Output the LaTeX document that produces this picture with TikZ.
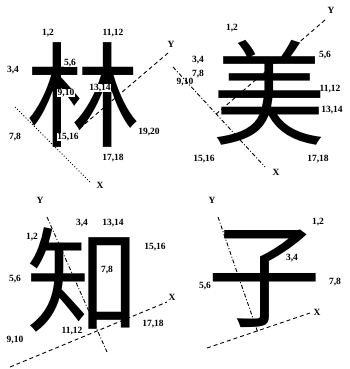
\documentclass[tikz,border=0pt]{standalone}
\usepackage{fontspec}
\setmainfont{Liberation Serif}
\newfontfamily\cjk{Noto Sans CJK SC}
\begin{document}
\begin{tikzpicture}[x=1pt,y=-1pt,
  hanzi/.style={font=\cjk\fontsize{114}{114}\selectfont, inner sep=0pt},
  lbl/.style={font=\bfseries\fontsize{9.5}{9.5}\selectfont, inner sep=0.6pt},
  inlbl/.style={lbl, fill=white, inner sep=0.3pt},
  axisdash/.style={line width=0.9pt, dash pattern=on 4pt off 3pt},
  axisdot/.style={line width=0.9pt, dash pattern=on 1pt off 2pt},
  axisdd/.style={line width=0.9pt, dash pattern=on 4pt off 2pt on 1pt off 2pt}]
\useasboundingbox (0,0) rectangle (349,369);
% characters
\node[hanzi] (lin) at (83,95) {林};
\node[hanzi] (mei) at (269,93) {美};
\node[hanzi] (zhi) at (83,280) {知};
\node[hanzi] (zi) at (264,279) {子};
% ---- 林 ----
\node[lbl] (l12) at (48,33) {1,2};
\node[lbl] (l1112) at (113,33) {11,12};
\node[lbl] (lY) at (171,44) {Y};
\node[lbl] (l34) at (13,70) {3,4};
\node[inlbl] (l56) at (70,63) {5,6};
\node[inlbl] (l910) at (66,93) {9,10};
\node[inlbl] (l1314) at (100,88) {13,14};
\node[lbl] (l78) at (15,137) {7,8};
\node[inlbl] (l1516) at (68,137) {15,16};
\node[lbl] (l1920) at (149,132) {19,20};
\node[lbl] (l1718) at (113,158) {17,18};
\node[lbl] (lX) at (100,185) {X};
\coordinate (lYa) at (168,53);
\coordinate (lYb) at (80,128);
\coordinate (lXa) at (15,107);
\coordinate (lXb) at (90,182);
\draw[axisdash] (lYa) -- (lYb);
\draw[axisdot] (lXa) -- (lXb);
% ---- 美 ----
\node[lbl] (m12) at (232,28) {1,2};
\node[lbl] (mY) at (331,10) {Y};
\node[lbl] (m34) at (198,60) {3,4};
\node[lbl] (m56) at (325,55) {5,6};
\node[lbl] (m78) at (198,74) {7,8};
\node[lbl] (m910) at (185,82) {9,10};
\node[lbl] (m1112) at (330,89) {11,12};
\node[lbl] (m1314) at (332,110) {13,14};
\node[lbl] (m1516) at (204,159) {15,16};
\node[lbl] (m1718) at (318,159) {17,18};
\node[lbl] (mX) at (276,172) {X};
\coordinate (mYa) at (325,20);
\coordinate (mYb) at (215,115);
\coordinate (mXa) at (173,67);
\coordinate (mXb) at (265,167);
\draw[axisdash] (mYa) -- (mYb);
\draw[axisdd] (mXa) -- (mXb);
% ---- 知 ----
\node[lbl] (z12) at (32,237) {1,2};
\node[lbl] (zY) at (40,200) {Y};
\node[lbl] (z34) at (82,223) {3,4};
\node[lbl] (z1314) at (113,223) {13,14};
\node[lbl] (z1516) at (155,247) {15,16};
\node[lbl] (z56) at (15,279) {5,6};
\node[inlbl] (z78) at (107,270) {7,8};
\node[lbl] (zX) at (172,297) {X};
\node[lbl] (z1718) at (153,324) {17,18};
\node[lbl] (z1112) at (72,331) {11,12};
\node[lbl] (z910) at (15,340) {9,10};
\coordinate (zYa) at (47,217);
\coordinate (zYb) at (107,352);
\coordinate (zXa) at (10,367);
\coordinate (zXb) at (167,302);
\draw[axisdd] (zYa) -- (zYb);
\draw[axisdash] (zXa) -- (zXb);
% ---- 子 ----
\node[lbl] (c12) at (318,222) {1,2};
\node[lbl] (cY) at (212,200) {Y};
\node[lbl] (c34) at (292,258) {3,4};
\node[lbl] (c56) at (205,286) {5,6};
\node[lbl] (c78) at (335,282) {7,8};
\node[lbl] (cX) at (317,312) {X};
\coordinate (cYa) at (218,217);
\coordinate (cYb) at (258,333);
\coordinate (cXa) at (207,348);
\coordinate (cXb) at (310,313);
\draw[axisdd] (cYa) -- (cYb);
\draw[axisdash] (cXa) -- (cXb);
\end{tikzpicture}
\end{document}
